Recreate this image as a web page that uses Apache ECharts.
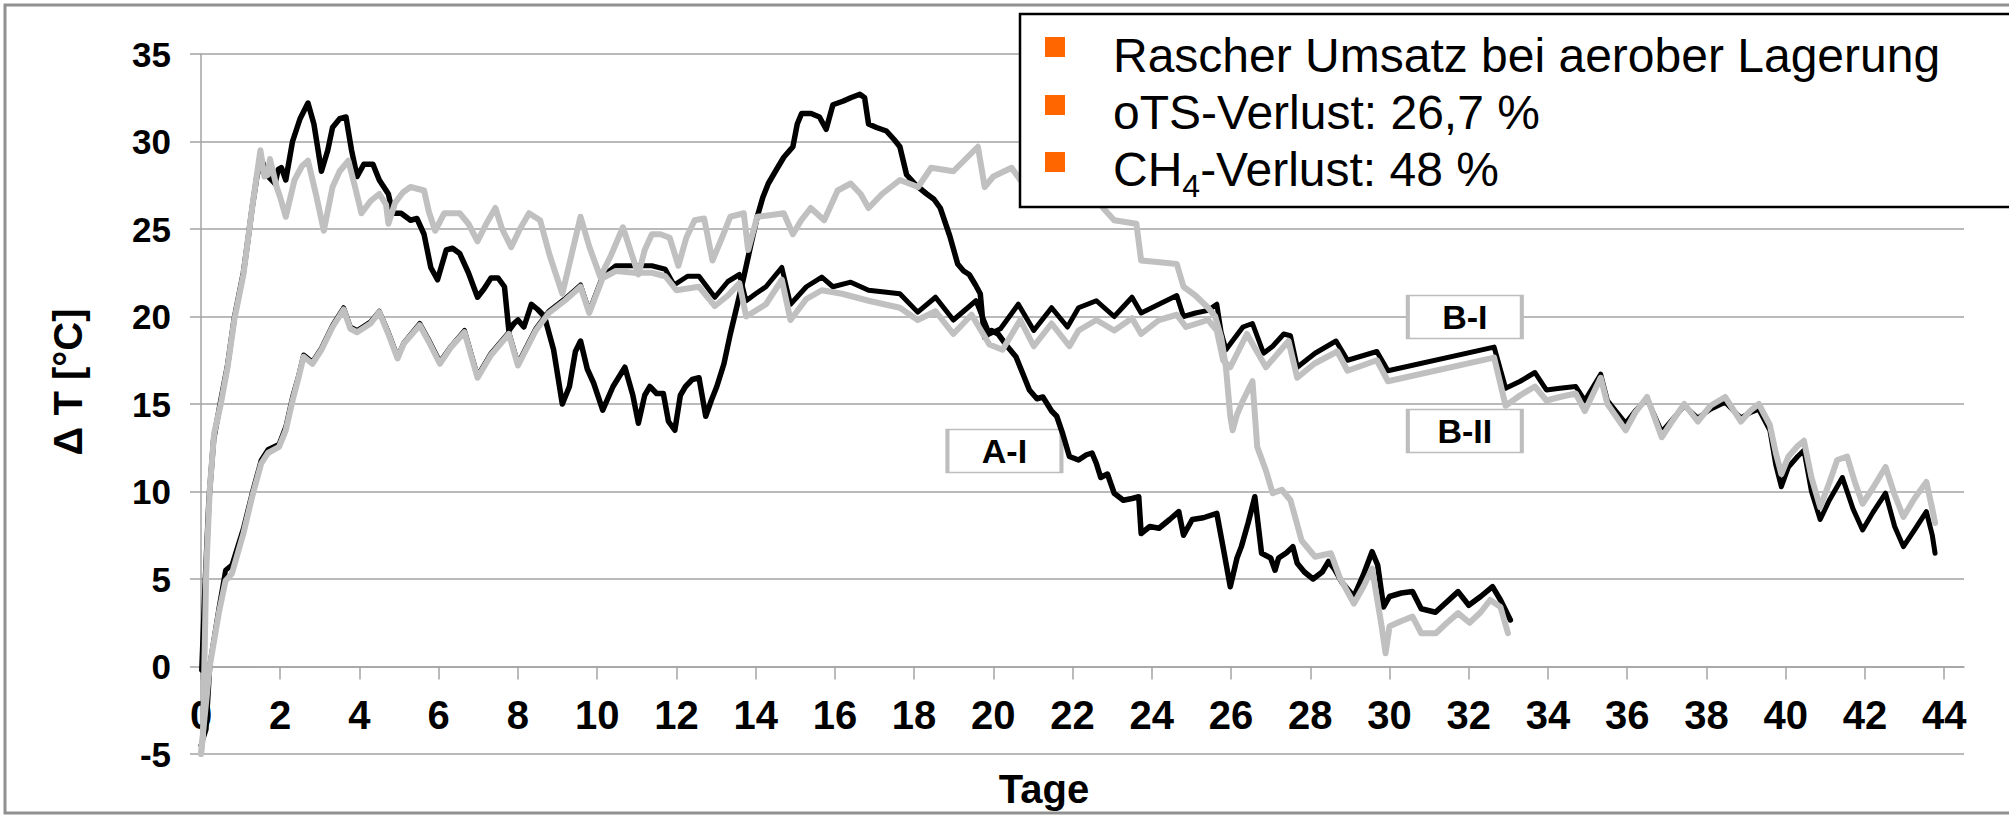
<!DOCTYPE html>
<html>
<head>
<meta charset="utf-8">
<script src="https://cdn.jsdelivr.net/npm/echarts@6/dist/echarts.min.js"></script>
<style>
  html, body { margin: 0; padding: 0; background: #fff; }
  #chart { width: 2009px; height: 815px; }
</style>
</head>
<body>
<div id="chart"></div>
<script>
// x-axis ticks (Tage) and y-axis ticks (Δ T)
const dayTicks = [0, 2, 4, 6, 8, 10, 12, 14, 16, 18, 20, 22, 24, 26, 28, 30, 32, 34, 36, 38, 40, 42, 44]
const tempTicks = [-5, 0, 5, 10, 15, 20, 25, 30, 35]

// [day, ΔT]
const seriesAI = [
  [0.02,-0.2],[0.1,4.5],[0.2,9.5],[0.32,13],[0.5,15.2],[0.67,17.2],[0.84,19.9],[1.07,22.5],[1.18,24.3],[1.29,26.2],
  [1.41,28.0],[1.52,29.0],[1.7,28.0],[1.87,27.6],[1.95,28.4],[2.03,28.5],[2.14,27.8],[2.31,30.0],[2.5,31.3],[2.7,32.2],
  [2.85,31.0],[3.04,28.3],[3.2,29.5],[3.32,30.8],[3.5,31.3],[3.66,31.4],[3.8,29.5],[3.94,28.0],[4.11,28.7],[4.34,28.7],
  [4.5,27.8],[4.73,27.0],[4.84,25.9],[5.05,25.9],[5.29,25.5],[5.45,25.6],[5.63,24.7],[5.8,22.8],[5.97,22.1],[6.19,23.8],
  [6.35,23.9],[6.53,23.6],[6.75,22.5],[6.98,21.1],[7.15,21.6],[7.32,22.2],[7.5,22.2],[7.66,21.7],[7.77,19.2],[7.9,19.6],
  [8.0,19.8],[8.15,19.4],[8.34,20.7],[8.5,20.4],[8.67,20.0],[8.9,18.1],[9.12,15.0],[9.3,16.0],[9.45,18.0],[9.58,18.6],
  [9.75,17.0],[9.91,16.2],[10.14,14.65],[10.4,16.0],[10.7,17.1],[10.9,15.5],[11.04,13.9],[11.2,15.5],[11.33,16.0],[11.5,15.6],
  [11.67,15.6],[11.8,14.0],[11.96,13.5],[12.1,15.5],[12.23,16.0],[12.4,16.4],[12.57,16.5],[12.74,14.3],[12.88,15.2],[13.02,16.0],
  [13.2,17.3],[13.36,19.0],[13.55,20.8],[13.7,22.25],[13.87,24.0],[14.04,25.7],[14.18,26.8],[14.32,27.6],[14.5,28.3],[14.71,29.1],
  [14.94,29.7],[15.05,31.0],[15.16,31.6],[15.4,31.6],[15.61,31.4],[15.78,30.7],[15.95,32.1],[16.2,32.3],[16.4,32.5],[16.63,32.7],
  [16.75,32.5],[16.85,31.0],[17.05,30.8],[17.3,30.6],[17.5,30.1],[17.64,29.7],[17.81,28.1],[18.05,27.5],[18.32,27.0],[18.5,26.7],
  [18.66,26.2],[18.9,24.6],[19.1,23.0],[19.25,22.6],[19.39,22.4],[19.55,21.8],[19.67,21.3],[19.73,19.8],[19.78,18.8],[19.95,19.2],
  [20.12,19.0],[20.35,18.3],[20.57,17.7],[20.75,16.7],[20.91,15.8],[21.1,15.3],[21.25,15.4],[21.47,14.6],[21.6,14.3],[21.75,13.3],
  [21.92,12.0],[22.15,11.8],[22.35,12.1],[22.49,12.2],[22.6,11.6],[22.71,10.8],[22.88,11.0],[23.05,9.9],[23.28,9.5],[23.5,9.6],
  [23.67,9.7],[23.73,7.6],[23.95,8.0],[24.18,7.9],[24.45,8.4],[24.68,8.85],[24.8,7.5],[25.02,8.4],[25.3,8.5],[25.64,8.75],
  [25.8,6.8],[25.98,4.56],[26.15,6.2],[26.26,6.85],[26.43,8.2],[26.6,9.7],[26.77,6.47],[27.0,6.2],[27.11,5.5],[27.2,6.2],
  [27.4,6.5],[27.56,6.85],[27.67,5.9],[27.85,5.4],[28.07,5.0],[28.3,5.4],[28.46,6.0],[28.6,5.6],[28.8,4.8],[29.1,4.0],
  [29.35,5.3],[29.56,6.56],[29.7,5.8],[29.85,3.4],[30.0,4.0],[30.3,4.2],[30.58,4.28],[30.8,3.3],[31.16,3.1],[31.45,3.7],
  [31.73,4.28],[32.0,3.5],[32.3,4.0],[32.6,4.56],[32.8,3.8],[33.05,2.66]
]

const seriesAII = [
  [0.0,-5.0],[0.05,-4.0],[0.13,5.3],[0.22,10.1],[0.33,13.3],[0.5,15.0],[0.67,17.1],[0.84,19.8],[1.07,22.4],[1.18,24.3],
  [1.29,26.2],[1.41,28.1],[1.5,29.5],[1.6,28.0],[1.69,28.1],[1.74,29.0],[1.91,27.4],[2.0,26.8],[2.14,25.7],[2.36,27.8],
  [2.55,28.6],[2.7,28.9],[2.9,27.0],[3.1,24.9],[3.32,27.4],[3.5,28.3],[3.72,28.9],[3.9,27.3],[4.05,25.9],[4.28,26.6],
  [4.5,27.0],[4.67,26.4],[4.73,25.3],[4.9,26.5],[5.1,27.1],[5.29,27.4],[5.63,27.2],[5.75,26.0],[5.91,24.9],[6.14,25.9],
  [6.53,25.9],[6.75,25.3],[6.98,24.3],[7.2,25.3],[7.43,26.2],[7.6,25.0],[7.83,23.96],[8.05,25.0],[8.28,25.9],[8.56,25.5],
  [8.8,23.5],[9.12,21.3],[9.35,23.5],[9.58,25.7],[9.8,24.0],[10.08,22.25],[10.35,23.5],[10.65,25.1],[10.85,23.7],[11.04,22.4],
  [11.2,23.8],[11.38,24.7],[11.6,24.7],[11.83,24.5],[12.05,22.9],[12.25,24.5],[12.46,25.5],[12.7,25.6],[12.91,23.2],[13.15,24.5],
  [13.36,25.7],[13.7,25.9],[13.81,23.8],[14.04,25.7],[14.4,25.8],[14.71,25.9],[14.94,24.7],[15.15,25.5],[15.39,26.2],[15.73,25.5],
  [16.07,27.2],[16.4,27.6],[16.65,27.0],[16.85,26.2],[17.19,27.0],[17.64,27.8],[18.1,27.4],[18.43,28.5],[18.99,28.3],[19.3,29.0],
  [19.61,29.7],[19.78,27.4],[20.0,28.0],[20.46,28.5],[20.68,27.8],[21.0,28.3],[21.5,28.0],[22.0,28.2],[22.4,27.5],[22.77,26.2],
  [23.05,25.5],[23.61,25.3],[23.73,23.2],[24.2,23.1],[24.63,23.0],[24.8,21.7],[25.1,21.2],[25.42,20.5],[25.6,20.0],[25.75,18.8],
  [25.87,17.1],[25.98,14.3],[26.04,13.5],[26.15,14.4],[26.3,15.2],[26.54,16.3],[26.66,12.55],[26.88,11.2],[27.05,9.9],[27.28,10.1],
  [27.5,9.5],[27.78,7.2],[28.12,6.27],[28.52,6.47],[28.74,5.1],[29.1,3.6],[29.35,4.6],[29.56,5.6],[29.8,2.3],[29.9,0.76],
  [30.0,2.3],[30.3,2.6],[30.58,2.85],[30.8,1.9],[31.17,1.9],[31.45,2.5],[31.73,3.05],[32.02,2.5],[32.3,3.1],[32.54,3.8],
  [32.8,3.4],[32.99,1.9]
]

const seriesBI = [
  [0.0,-4.5],[0.13,-3.6],[0.23,0.2],[0.45,3.3],[0.62,5.5],[0.78,5.8],[1.07,7.9],[1.29,9.9],[1.52,11.8],[1.69,12.4],
  [1.97,12.7],[2.14,13.7],[2.31,15.4],[2.45,16.5],[2.59,17.8],[2.81,17.4],[3.04,18.2],[3.32,19.5],[3.6,20.5],[3.77,19.4],
  [3.94,19.2],[4.28,19.7],[4.5,20.3],[4.73,19.1],[4.96,17.7],[5.12,18.5],[5.52,19.6],[5.74,18.7],[6.03,17.4],[6.31,18.3],
  [6.65,19.2],[6.98,16.6],[7.32,17.9],[7.77,19.1],[8.0,17.3],[8.45,19.3],[8.78,20.3],[9.18,21.0],[9.58,21.8],[9.8,20.3],
  [10.14,22.3],[10.47,22.9],[10.93,22.9],[11.38,22.9],[11.72,22.7],[11.94,21.8],[12.28,22.3],[12.57,22.3],[12.97,21.1],[13.3,22.0],
  [13.59,22.4],[13.76,20.9],[14.0,21.3],[14.26,21.7],[14.66,22.8],[14.88,20.7],[15.28,21.7],[15.67,22.25],[15.95,21.7],[16.4,21.96],
  [16.85,21.5],[17.25,21.4],[17.64,21.3],[18.09,20.25],[18.54,21.1],[18.99,19.8],[19.56,20.9],[19.9,19.0],[20.18,19.3],[20.63,20.7],
  [21.02,19.2],[21.47,20.5],[21.87,19.4],[22.15,20.5],[22.6,20.9],[23.05,20.0],[23.5,21.1],[23.73,20.2],[24.18,20.7],[24.63,21.2],
  [24.8,20.0],[25.1,20.2],[25.42,20.35],[25.64,20.7],[25.75,19.1],[25.87,18.1],[26.1,18.8],[26.3,19.4],[26.54,19.6],[26.82,17.9],
  [27.05,18.3],[27.33,19.0],[27.5,18.9],[27.67,17.1],[28.12,17.9],[28.65,18.6],[28.94,17.5],[29.68,18.0],[29.96,16.9],[32.64,18.25],
  [32.93,15.9],[33.3,16.3],[33.67,16.8],[33.96,15.8],[34.3,15.9],[34.7,16.0],[34.93,15.2],[35.33,16.7],[35.5,15.2],[35.96,13.9],
  [36.2,14.6],[36.5,15.3],[36.87,13.4],[37.1,14.0],[37.44,14.9],[37.78,14.2],[38.1,14.7],[38.47,15.1],[38.87,14.2],[39.1,14.5],
  [39.32,14.7],[39.6,13.5],[39.75,11.5],[39.89,10.27],[40.07,11.4],[40.3,12.0],[40.46,12.36],[40.65,10.0],[40.87,8.4],[41.1,9.5],
  [41.43,10.8],[41.7,9.0],[41.94,7.8],[42.2,8.8],[42.52,9.9],[42.75,8.0],[42.97,6.85],[43.25,7.8],[43.55,8.85],[43.7,7.5],
  [43.77,6.47]
]

const seriesBII = [
  [0.0,-5.0],[0.05,-3.8],[0.22,0.0],[0.45,3.06],[0.62,4.9],[0.78,5.3],[1.07,7.6],[1.29,9.7],[1.52,11.6],[1.69,12.2],
  [1.97,12.55],[2.14,13.5],[2.31,15.2],[2.45,16.4],[2.59,17.7],[2.81,17.3],[3.04,18.1],[3.32,19.4],[3.6,20.4],[3.77,19.3],
  [3.94,19.1],[4.28,19.6],[4.5,20.25],[4.73,19.0],[4.96,17.6],[5.12,18.45],[5.52,19.5],[5.74,18.6],[6.03,17.3],[6.31,18.25],
  [6.65,19.1],[6.98,16.5],[7.32,17.8],[7.77,19.0],[8.0,17.2],[8.45,19.2],[8.78,20.2],[9.18,20.9],[9.58,21.7],[9.8,20.2],
  [10.14,22.2],[10.47,22.6],[10.93,22.5],[11.38,22.5],[11.72,22.3],[12.0,21.5],[12.57,21.7],[12.97,20.6],[13.3,21.2],[13.59,21.9],
  [13.76,20.0],[14.26,20.7],[14.66,22.1],[14.88,19.8],[15.28,21.0],[15.67,21.5],[16.18,21.3],[16.85,20.9],[17.64,20.5],[18.09,19.8],
  [18.54,20.3],[18.99,19.0],[19.45,20.1],[19.9,18.4],[20.23,18.1],[20.68,19.8],[21.02,18.3],[21.47,19.6],[21.92,18.3],[22.15,19.2],
  [22.6,19.8],[23.05,19.2],[23.5,19.9],[23.73,19.0],[24.18,19.8],[24.63,20.1],[24.86,19.4],[25.42,19.8],[25.64,19.2],[25.8,17.5],
  [25.98,17.1],[26.4,19.0],[26.88,17.1],[27.45,18.6],[27.67,16.5],[28.1,17.3],[28.68,18.0],[28.94,16.9],[29.68,17.5],[29.96,16.3],
  [32.64,17.65],[32.93,14.9],[33.3,15.5],[33.67,16.0],[33.96,15.2],[34.3,15.4],[34.7,15.6],[34.93,14.6],[35.33,16.5],[35.5,15.0],
  [35.96,13.5],[36.2,14.5],[36.5,15.4],[36.87,13.1],[37.1,13.9],[37.44,15.0],[37.78,14.0],[38.1,14.9],[38.47,15.4],[38.87,14.0],
  [39.1,14.6],[39.32,15.0],[39.6,13.8],[39.75,12.2],[39.89,11.0],[40.07,12.0],[40.3,12.6],[40.46,12.9],[40.65,10.8],[40.87,9.1],
  [41.1,10.5],[41.3,11.8],[41.55,12.0],[41.75,10.5],[41.94,9.3],[42.2,10.2],[42.52,11.4],[42.75,9.8],[42.97,8.55],[43.25,9.6],
  [43.55,10.55],[43.7,9.0],[43.77,8.2]
]

// curve names boxed on the chart, anchored in data coordinates [day, ΔT]
const curveNames = ['A-I', 'B-I', 'B-II']
const curveNameAt = [[20.28, 12.32], [31.9, 19.97], [31.9, 13.46]]

const bulletLines = ['Rascher Umsatz bei aerober Lagerung', 'oTS-Verlust: 26,7 %', '{n|CH}{s|4}{n|-Verlust: 48 %}']

const FONT = '"Liberation Sans", Arial, sans-serif'
const gridGray = '#a3a3a3'

const chart = echarts.init(document.getElementById('chart'), undefined, { renderer: 'svg' })

function lineSeries(name, data, color, width) {
  return {
    name: name,
    type: 'line',
    data: data,
    showSymbol: false,
    symbol: 'none',
    lineStyle: { color: color, width: width, join: 'round', cap: 'round' },
    silent: true,
    z: 2
  }
}

const bI = lineSeries('B-I', seriesBI, '#000', 5)
bI.markPoint = {
  z: 1,
  symbol: 'rect',
  symbolSize: [114, 43],
  itemStyle: { color: '#fff', borderColor: '#bdbdbd', borderWidth: 2.5 },
  label: { show: true, position: 'inside', formatter: '{b}', color: '#000', fontSize: 34, fontWeight: 'bold', fontFamily: FONT },
  data: curveNames.map((n, i) => ({ name: n, coord: curveNameAt[i] }))
}

// grid: 700px high for 40 °C -> the 0 line sits 5 * 17.5px above the bottom
const option = {
  backgroundColor: '#fff',
  animation: false,
  grid: { left: 201, right: 45, top: 54, bottom: 61, containLabel: false, outerBoundsMode: 'none' },
  xAxis: {
    type: 'value',
    min: 0,
    max: 44.5,
    interval: 2,
    offset: -87.5,
    axisLine: { show: true, onZero: false, lineStyle: { color: gridGray, width: 1.5 } },
    axisTick: { show: true, inside: false, length: 13, customValues: dayTicks, lineStyle: { color: gridGray, width: 1.5 } },
    axisLabel: { show: true, margin: 28, customValues: dayTicks, color: '#000', fontSize: 40, fontWeight: 'bold', fontFamily: FONT },
    splitLine: { show: false }
  },
  yAxis: {
    type: 'value',
    min: tempTicks[0],
    max: tempTicks[tempTicks.length - 1],
    interval: 5,
    axisLine: { show: true, onZero: false, lineStyle: { color: gridGray, width: 1.5 } },
    axisTick: { show: true, inside: false, length: 11, lineStyle: { color: gridGray, width: 1.5 } },
    axisLabel: { show: true, margin: 30, color: '#000', fontSize: 35, fontWeight: 'bold', fontFamily: FONT },
    splitLine: { show: true, lineStyle: { color: gridGray, width: 1.5 } }
  },
  series: [
    bI,
    lineSeries('A-I', seriesAI, '#000', 5.5),
    lineSeries('A-II', seriesAII, '#c0c0c0', 6),
    lineSeries('B-II', seriesBII, '#c0c0c0', 6)
  ],
  graphic: [
    // outer frame
    { type: 'rect', z: 0, silent: true, shape: { x: 5, y: 5, width: 2100, height: 808 },
      style: { fill: 'none', stroke: '#909090', lineWidth: 3 } },
    // bullet box
    { type: 'rect', z: 100, silent: true, shape: { x: 1020, y: 14, width: 1100, height: 193 },
      style: { fill: '#fff', stroke: '#000', lineWidth: 2.5 } },
    { type: 'rect', z: 101, silent: true, shape: { x: 1045, y: 37, width: 20, height: 20 }, style: { fill: '#ff6600' } },
    { type: 'rect', z: 101, silent: true, shape: { x: 1045, y: 95, width: 20, height: 20 }, style: { fill: '#ff6600' } },
    { type: 'rect', z: 101, silent: true, shape: { x: 1045, y: 152, width: 20, height: 20 }, style: { fill: '#ff6600' } },
    { type: 'text', z: 101, silent: true, x: 1113, y: 55,
      style: { text: bulletLines[0], fill: '#000', font: '48px ' + FONT, verticalAlign: 'middle' } },
    { type: 'text', z: 101, silent: true, x: 1113, y: 112,
      style: { text: bulletLines[1], fill: '#000', font: '48px ' + FONT, verticalAlign: 'middle' } },
    { type: 'text', z: 101, silent: true, x: 1113, y: 169,
      style: {
        text: bulletLines[2], fill: '#000', verticalAlign: 'middle',
        rich: {
          n: { fontSize: 48, fontFamily: FONT, lineHeight: 66, fill: '#000' },
          s: { fontSize: 32, fontFamily: FONT, lineHeight: 32, verticalAlign: 'bottom', fill: '#000' }
        }
      } },
    // axis titles
    { type: 'text', z: 10, silent: true, x: 68, y: 382, rotation: Math.PI / 2,
      style: { text: 'Δ T [°C]', fill: '#000', font: 'bold 40px ' + FONT, align: 'center', verticalAlign: 'middle' } },
    { type: 'text', z: 10, silent: true, x: 1044, y: 789,
      style: { text: 'Tage', fill: '#000', font: 'bold 40px ' + FONT, align: 'center', verticalAlign: 'middle' } }
  ]
}

chart.setOption(option)
</script>
</body>
</html>
